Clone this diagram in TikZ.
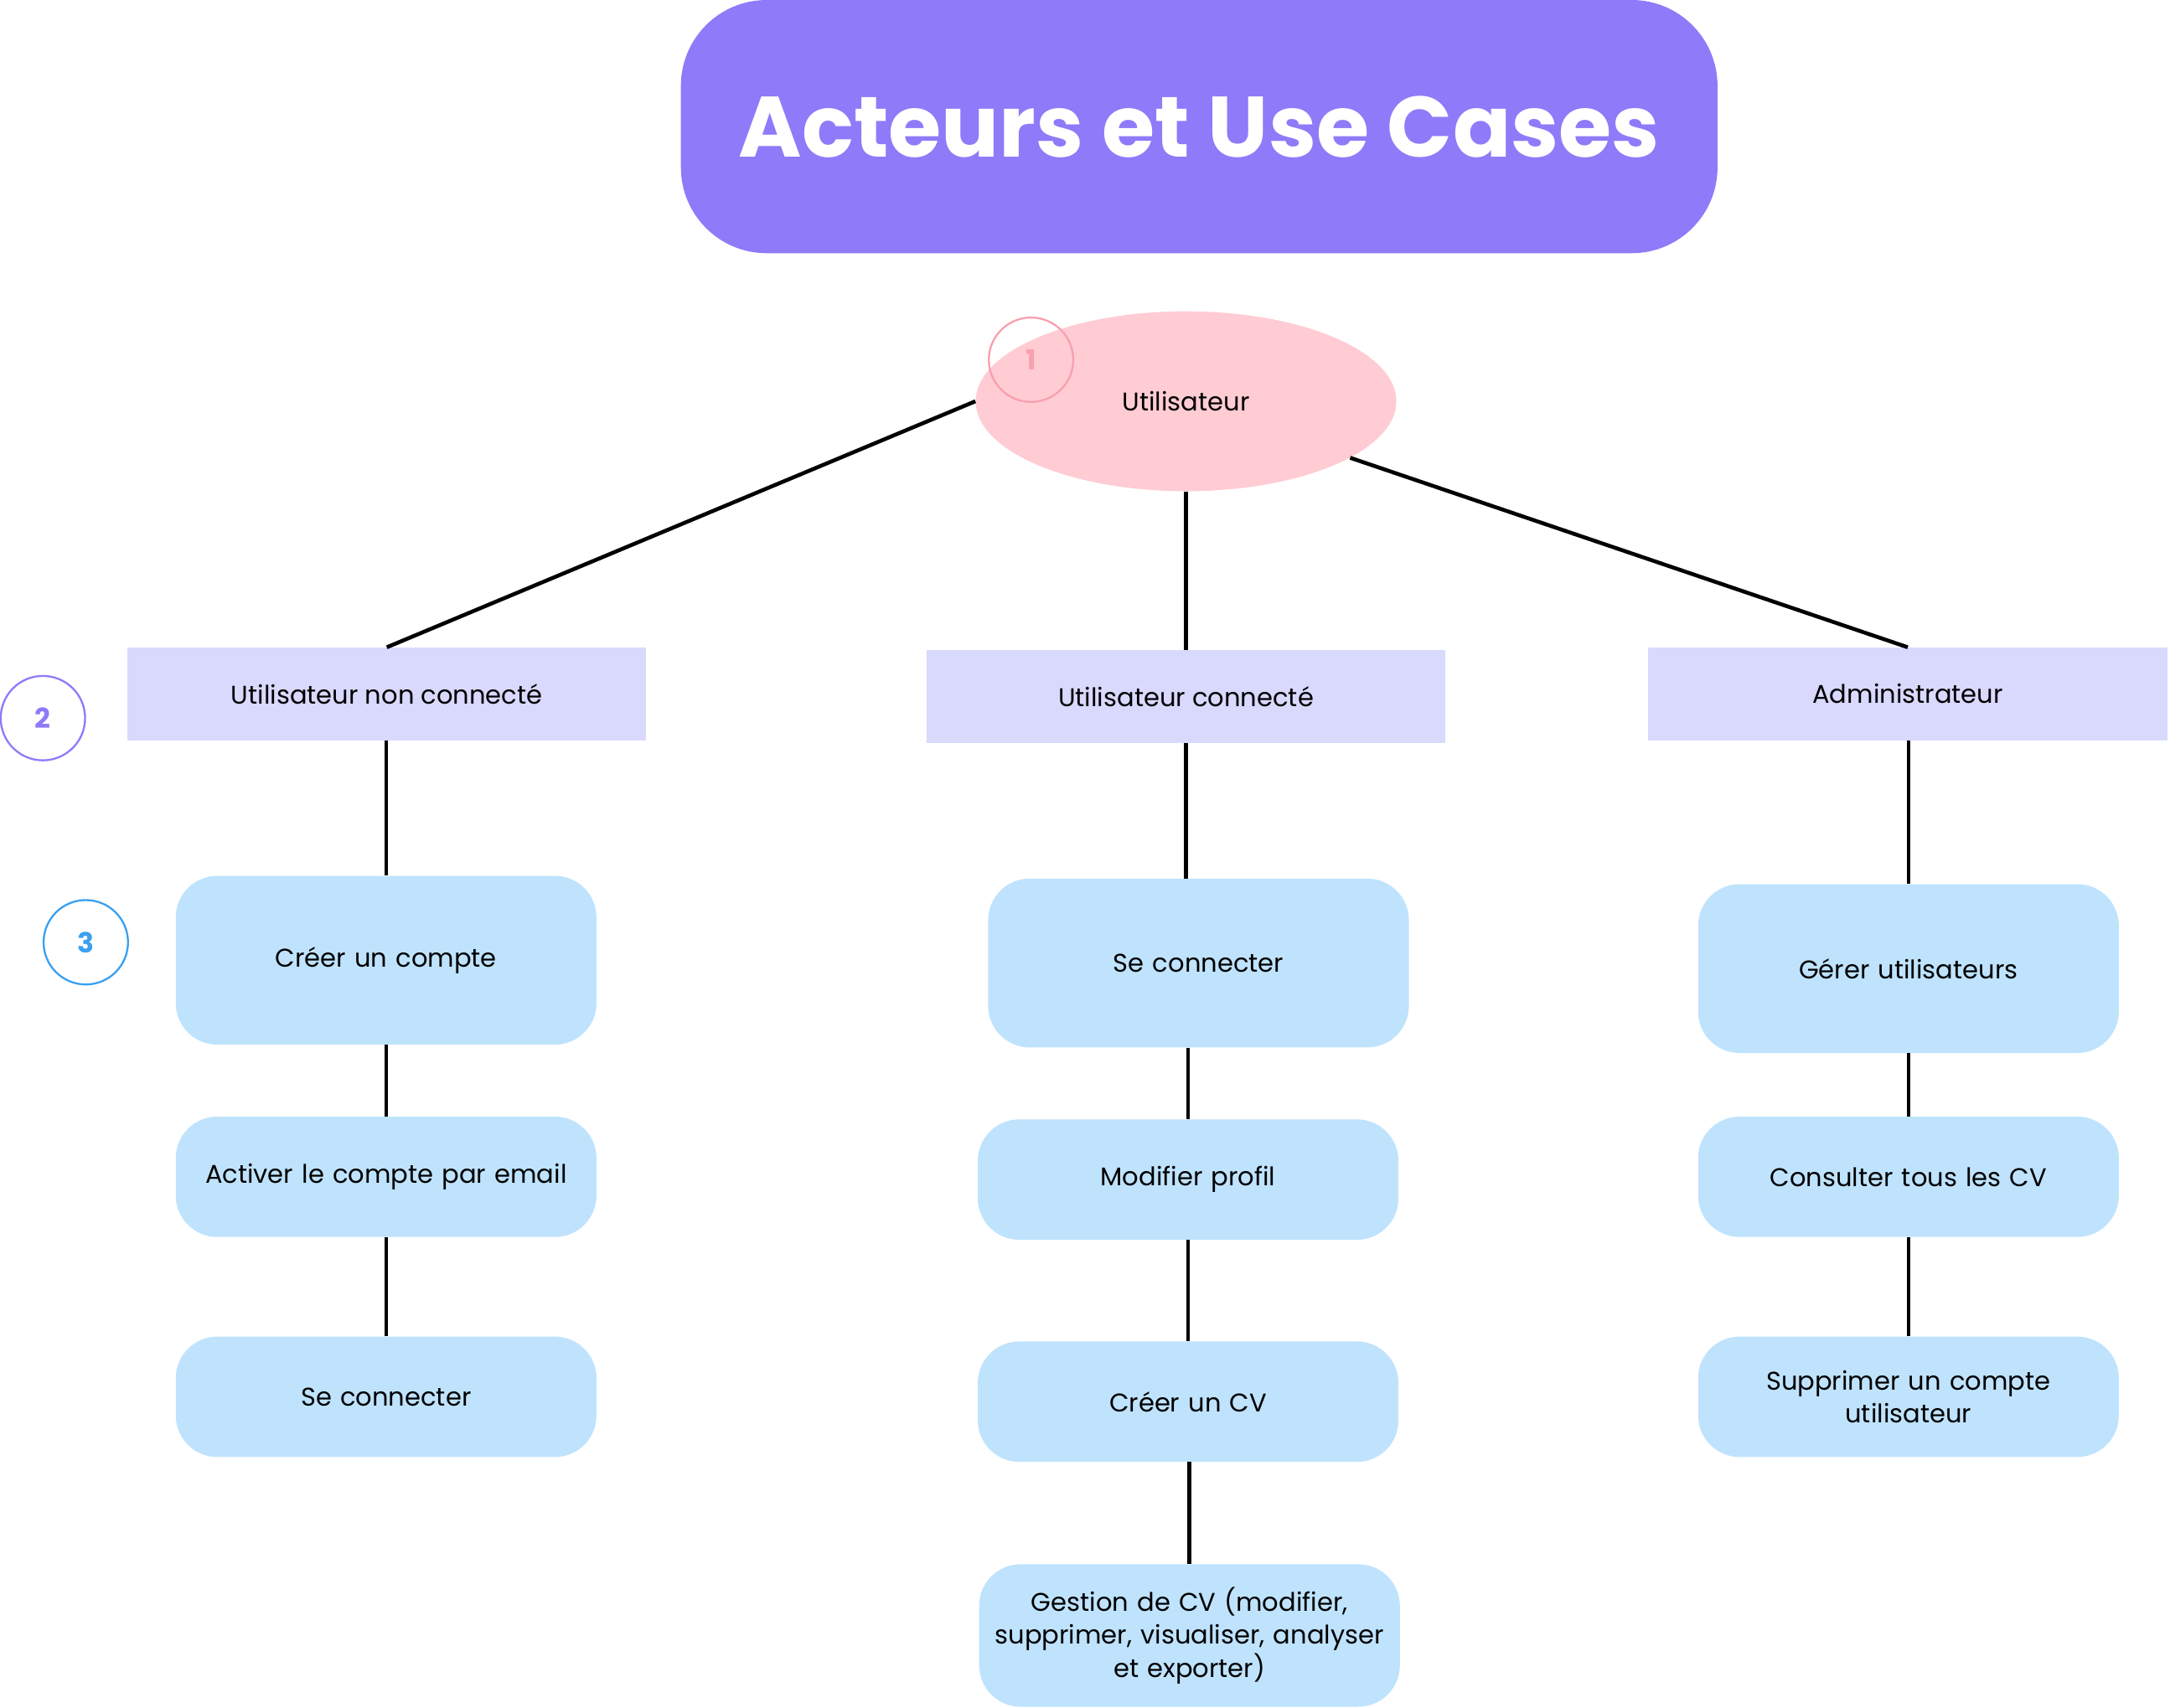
\documentclass[tikz,border=0pt]{standalone}
\usepackage{fontspec}
\setmainfont{Poppins}
\usetikzlibrary{shapes.geometric}
\definecolor{titlecol}{RGB}{143,122,249}
\definecolor{usrcol}{RGB}{255,204,211}
\definecolor{onecol}{RGB}{248,160,176}
\definecolor{threecol}{RGB}{58,160,240}
\definecolor{actorcol}{RGB}{216,217,253}
\definecolor{casecol}{RGB}{191,227,253}
\begin{document}
\begin{tikzpicture}[x=1pt,y=-1pt,
    actor/.style={fill=actorcol,minimum width=375pt,minimum height=67pt,inner sep=0pt,
      font=\fontsize{18.5}{23}\selectfont},
    usecase/.style={fill=casecol,rounded corners=30pt,minimum width=304pt,inner sep=0pt,
      align=center,text width=295pt,font=\fontsize{18.5}{24}\selectfont},
    tag/.style={circle,draw,line width=1.4pt,minimum size=61pt,inner sep=0pt,
      font=\fontsize{20}{24}\selectfont\bfseries}]
      \useasboundingbox (0,0) rectangle (1568,1234);
      \draw
        (866.5,91.5) node[fill=titlecol,rounded corners=62pt,minimum width=749pt,minimum height=183pt,
          text=white,font=\fontsize{62}{74}\selectfont\bfseries] (title){Acteurs et Use Cases}
        (857,290) node[ellipse,fill=usrcol,minimum width=304pt,minimum height=130pt,inner sep=0pt,
          font=\fontsize{18.5}{23}\selectfont] (usr){Utilisateur}
        (745,260) node[tag,draw=onecol,text=onecol] (n1){1}
        (31,519) node[tag,draw=titlecol,text=titlecol] (n2){2}
        (62,681) node[tag,draw=threecol,text=threecol] (n3){3}
        (279.5,501.5) node[actor] (anon){Utilisateur non connecté}
        (857,503.5) node[actor] (conn){Utilisateur connecté}
        (1378.5,501.5) node[actor] (admin){Administrateur}
        (279,694) node[usecase,minimum height=122pt] (a1){Créer un compte}
        (279,850.5) node[usecase,minimum height=87pt] (a2){Activer le compte par email}
        (279,1009.5) node[usecase,minimum height=87pt] (a3){Se connecter}
        (866,696) node[usecase,minimum height=122pt] (b1){Se connecter}
        (858.5,852.5) node[usecase,minimum height=87pt] (b2){Modifier profil}
        (858.5,1013) node[usecase,minimum height=87pt] (b3){Créer un CV}
        (859.5,1182) node[usecase,minimum height=103pt] (b4){Gestion de CV (modifier,\\ supprimer, visualiser, analyser\\ et exporter)}
        (1379,700) node[usecase,minimum height=122pt] (c1){Gérer utilisateurs}
        (1379,850.5) node[usecase,minimum height=87pt] (c2){Consulter tous les CV}
        (1379,1009.5) node[usecase,minimum height=87pt] (c3){Supprimer un compte\\ utilisateur};
      \begin{scope}[-,line width=2.8pt]
        \draw (usr.west) to (anon.north);
        \draw (usr.south) to (conn.north);
        \draw (usr.-19) to (admin.north);
        \draw (a1.north |- anon.south) to (a1.north);
        \draw (a1) to (a2);
        \draw (a2) to (a3);
        \draw (conn.south) to (conn.south |- b1.north);
        \draw (b2.north |- b1.south) to (b2.north);
        \draw (b2) to (b3);
        \draw (b4.north |- b3.south) to (b4.north);
        \draw (c1.north |- admin.south) to (c1.north);
        \draw (c1) to (c2);
        \draw (c2) to (c3);
      \end{scope}
    \end{tikzpicture}
\end{document}
